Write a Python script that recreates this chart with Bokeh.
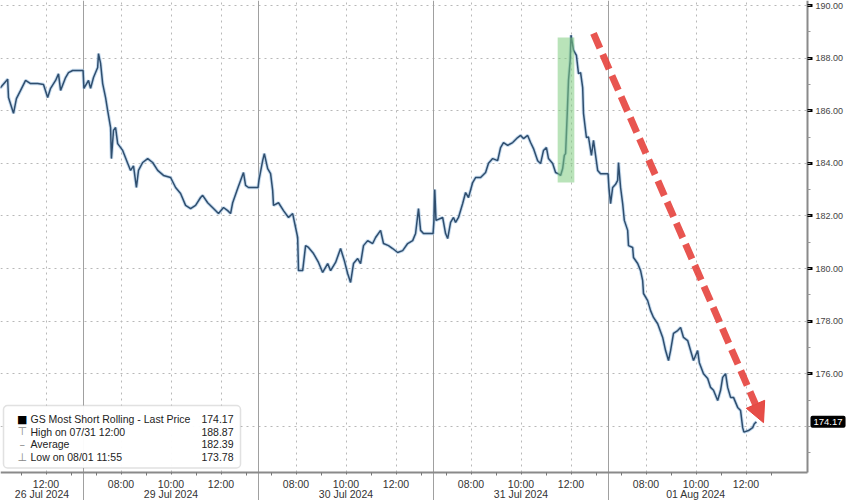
from bokeh.plotting import figure
from bokeh.models import (Range1d, FixedTicker, LinearAxis, Span, BoxAnnotation,
                          Label, Arrow, NormalHead, PrintfTickFormatter)
from bokeh.embed import file_html
from bokeh.resources import INLINE

# ---------------- data ----------------
days = ["26 Jul 2024", "29 Jul 2024", "30 Jul 2024", "31 Jul 2024", "01 Aug 2024"]
session_open = 6.5      # 06:30
session_len = 7.0       # hours shown per trading day

jul26_times = ["10:05","10:11","10:28","10:30","10:42","10:49","10:59","11:11","11:23","11:40",
               "11:54","12:04","12:11","12:23","12:30","12:35","12:47","12:54","13:04","13:29"]
jul26_prices = [186.9,186.88,187.2,186.5,185.9,186.46,186.77,187.15,187.03,187.03,
                187.0,186.5,186.85,187.15,187.4,186.77,187.26,187.45,187.53,187.53]

jul29_times = ["06:31","06:42","06:47","06:54","07:04","07:06","07:11","07:16","07:23","07:28",
               "07:35","07:37","07:42","07:47","07:52","08:04","08:16","08:23","08:30","08:37",
               "08:42","08:52","09:04","09:16","09:28","09:42","09:59","10:11","10:23","10:35",
               "10:47","10:59","11:11","11:16","11:28","11:42","11:54","12:06","12:16","12:23",
               "12:28","12:40","12:54","12:59","13:06","13:29"]
jul29_prices = [186.85,187.15,186.85,187.26,187.64,188.17,187.8,187.03,186.5,186.0,
                185.36,184.18,185.25,185.36,184.75,184.49,184.0,183.73,183.9,183.08,
                183.73,184.03,184.18,184.03,183.73,183.54,183.46,183.08,182.85,182.4,
                182.28,182.4,182.7,182.78,182.5,182.28,182.09,182.32,182.2,182.09,
                182.5,183.04,183.65,183.16,183.08,183.08]

jul30_times = ["06:31","06:40","06:44","06:52","06:59","07:04","07:06","07:18","07:30","07:42",
               "07:52","07:59","08:04","08:06","08:16","08:23","08:30","08:42","08:54","09:04",
               "09:16","09:23","09:35","09:47","09:56","10:04","10:11","10:18","10:28","10:35",
               "10:42","10:52","11:04","11:11","11:23","11:30","11:42","11:52","12:04","12:16",
               "12:28","12:40","12:47","12:54","12:59","13:06","13:29"]
jul30_prices = [183.35,184.1,184.37,183.8,183.61,182.97,182.4,182.5,182.2,181.94,
                182.09,181.56,181.18,179.92,179.92,180.87,180.8,180.57,180.23,179.85,
                180.19,179.92,180.23,180.76,180.3,179.81,179.47,180.19,180.38,180.19,
                180.87,181.06,180.95,181.18,181.45,180.95,180.87,180.76,180.61,180.68,
                180.95,181.06,181.33,182.28,181.45,181.33,181.33]

jul31_times = ["06:31","06:33","06:36","06:52","06:59","07:04","07:11","07:18","07:23","07:30",
               "07:40","07:47","07:54","08:04","08:11","08:23","08:35","08:42","08:52","09:04",
               "09:11","09:18","09:28","09:40","09:52","09:59","10:06","10:16","10:23","10:30",
               "10:40","10:47","10:54","11:01","11:06","11:16","11:23","11:30","11:35","11:40",
               "11:44","11:47","11:51","11:54","11:56","11:58","12:00","12:06","12:13","12:18",
               "12:23","12:28","12:30","12:37","12:42","12:49","12:54","12:59","13:04","13:11",
               "13:29"]
jul31_prices = [181.8,183.0,181.83,181.94,181.33,181.14,181.75,181.94,181.75,181.94,
                182.47,182.89,182.7,183.27,183.46,183.46,183.65,184.0,184.18,184.1,
                184.6,184.79,184.68,184.79,184.98,185.06,184.94,185.06,184.79,184.56,
                184.1,183.99,184.49,184.6,184.18,183.99,183.65,183.6,183.54,183.8,
                184.3,184.37,185.9,187.15,187.53,187.91,188.87,188.3,188.1,187.41,
                187.45,186.88,185.9,184.98,185.0,184.3,184.87,184.3,183.73,183.6,
                183.6]

aug01_times = ["06:31","06:35","06:40","06:47","06:52","06:54","06:59","07:04","07:08","07:16",
               "07:18","07:28","07:30","07:40","07:47","07:52","07:54","08:04","08:11","08:18",
               "08:28","08:40","08:47","08:54","08:59","09:06","09:16","09:23","09:30","09:40",
               "09:47","09:54","10:04","10:08","10:18","10:28","10:35","10:42","10:52","10:59",
               "11:04","11:11","11:16","11:23","11:30","11:40","11:47","11:52","11:55","12:06",
               "12:16","12:20","12:25"]
aug01_prices = [183.08,182.47,183.08,183.2,183.35,184.03,183.08,182.47,181.83,181.45,
                180.87,180.8,180.42,180.19,179.92,179.54,179.05,178.78,178.4,178.14,
                177.9,177.38,176.88,176.5,176.88,177.53,177.64,177.76,177.38,177.26,
                176.88,176.5,176.88,176.42,176.0,175.82,175.48,175.37,174.98,175.37,
                175.86,176.0,175.48,175.1,175.1,174.72,174.6,173.95,173.78,173.84,
                173.95,174.1,174.17]

time_tick_labels = ["08:00", "10:00", "12:00"]
y_label_values = [176, 178, 180, 182, 184, 186, 188, 190]
y_grid_values = [174, 176, 178, 180, 182, 184, 186, 188, 190]

legend_labels = ["GS Most Short Rolling - Last Price", "High on 07/31 12:00",
                 "Average", "Low on 08/01 11:55"]
legend_values = ["174.17", "188.87", "182.39", "173.78"]
last_price = 174.17

# highlighted spike (31 Jul) and trend arrow
highlight_times = ["11:28", "12:08"]
highlight_prices = [183.27, 188.78]
arrow_from = ("12:54", 188.94)   # 31 Jul
arrow_to = ("12:42", 174.14)     # 01 Aug


def xpos(day_idx, hhmm):
    h, m = hhmm.split(":")
    return day_idx * session_len + (int(h) + int(m) / 60.0 - session_open)


xs, ys = [], []
for d, (tt, pp) in enumerate([(jul26_times, jul26_prices), (jul29_times, jul29_prices),
                              (jul30_times, jul30_prices), (jul31_times, jul31_prices),
                              (aug01_times, aug01_prices)]):
    xs += [xpos(d, t) for t in tt]
    ys += pp

# ranges: the whole canvas is the frame; axes are drawn at fixed locations inside it
X0, X1 = 3.68, 37.6          # canvas x 0 .. 848
X_AXIS = 35.96               # where the price axis sits
Y_AXIS = 172.24              # where the time axis sits
Y1 = 190.19
Y0 = 171.18
FONT = "Liberation Sans"

p = figure(width=848, height=500, x_range=Range1d(X0, X1), y_range=Range1d(Y0, Y1),
           output_backend="svg", toolbar_location=None, y_axis_location="right",
           min_border_left=0, min_border_top=0, min_border_right=0, min_border_bottom=0,
           outline_line_color=None, background_fill_color="white", border_fill_color="white")

# ---- x axis: times ----
major_x, labels_x, minor_x = [], {}, []
major_x.append(xpos(0, "12:00")); labels_x[xpos(0, "12:00")] = "12:00"
minor_x += [xpos(0, "11:00"), xpos(0, "13:00")]
for d in range(1, 5):
    for lbl in time_tick_labels:
        v = xpos(d, lbl)
        major_x.append(v)
        labels_x[v] = lbl
    minor_x += [xpos(d, h) for h in ["07:00", "09:00", "11:00", "13:00"]]

xa = p.xaxis[0]
xa.fixed_location = Y_AXIS
xa.bounds = (X0, X_AXIS)
xa.ticker = FixedTicker(ticks=major_x, minor_ticks=minor_x)
xa.major_label_overrides = labels_x
xa.axis_line_color = "#8a8a8a"
xa.axis_line_width = 2
xa.major_tick_in = 0
xa.major_tick_out = 2
xa.minor_tick_in = 0
xa.minor_tick_out = 3
xa.major_tick_line_color = "#777777"
xa.minor_tick_line_color = "#777777"
xa.major_label_text_font = FONT
xa.major_label_text_font_size = "10.5px"
xa.major_label_text_color = "#333333"
xa.major_label_standoff = 2

# ---- date axis ----
date_ticks = [(X0 + session_len) / 2.0] + [d * session_len + session_len / 2 for d in range(1, 5)]
date_axis = LinearAxis(ticker=FixedTicker(ticks=date_ticks, minor_ticks=[]),
                       fixed_location=Y_AXIS,
                       major_label_overrides={t: days[i] for i, t in enumerate(date_ticks)},
                       axis_line_color=None, major_tick_line_color=None, minor_tick_line_color=None,
                       major_tick_out=0, major_tick_in=0,
                       major_label_text_font=FONT, major_label_text_font_size="10.5px",
                       major_label_text_color="#333333", major_label_standoff=15)
p.add_layout(date_axis, "below")

# ---- day separators (run through the label area as in the reference) ----
sep_ticks = [d * session_len for d in range(1, 5)]
for s in sep_ticks:
    p.add_layout(Span(location=s, dimension="height", line_color="#a0a0a0",
                      line_width=1, level="underlay"))

# ---- y axis ----
ya = p.yaxis[0]
ya.fixed_location = X_AXIS
ya.bounds = (Y_AXIS, Y1)
ya.ticker = FixedTicker(ticks=y_label_values, minor_ticks=list(range(173, 191)))
ya.formatter = PrintfTickFormatter(format="%.2f")
ya.axis_line_color = "#8a8a8a"
ya.axis_line_width = 2
ya.major_tick_in = 0
ya.major_tick_out = 5
ya.major_tick_line_width = 3
ya.major_tick_line_color = "black"
ya.minor_tick_in = 0
ya.minor_tick_out = 3
ya.minor_tick_line_color = "#999999"
ya.major_label_text_font = FONT
ya.major_label_text_font_size = "9px"
ya.major_label_text_color = "#444444"
ya.major_label_standoff = 3

# ---- grids ----
p.xgrid[0].ticker = FixedTicker(ticks=major_x)
p.xgrid[0].cross_bounds = (Y_AXIS, Y1)
p.ygrid[0].ticker = FixedTicker(ticks=y_grid_values)
p.ygrid[0].cross_bounds = (X0, X_AXIS)
for g in (p.xgrid[0], p.ygrid[0]):
    g.grid_line_color = "#b8b8b8"
    g.grid_line_dash = "2 4"
    g.grid_line_width = 1

# ---- price line ----
p.line(xs, ys, line_color="#9ec2e3", line_width=3.4, line_alpha=0.6)
p.line(xs, ys, line_color="#2f4e6e", line_width=1.5)

# ---- highlight box ----
p.add_layout(BoxAnnotation(left=xpos(3, highlight_times[0]), right=xpos(3, highlight_times[1]),
                           bottom=highlight_prices[0], top=highlight_prices[1],
                           fill_color="#80cc80", fill_alpha=0.55, line_color=None))

# ---- trend arrow ----
red = "#e5433d"
p.add_layout(Arrow(x_start=xpos(3, arrow_from[0]), y_start=arrow_from[1],
                   x_end=xpos(4, arrow_to[0]), y_end=arrow_to[1],
                   line_color=red, line_width=7, line_dash="16 7", line_alpha=0.9,
                   end=NormalHead(size=20, fill_color=red, line_color=red, fill_alpha=0.95)))

# ---- legend box ----
p.add_layout(BoxAnnotation(left=3.8, right=13.28, top=174.79, bottom=172.42,
                           fill_color="white", fill_alpha=0.96, line_color="#9a9a9a",
                           line_width=1.5, border_radius=4))
row_y = [174.26, 173.80, 173.31, 172.83]
icons = ["\u25A0", "\u22A4", "\u2013", "\u22A5"]
icon_colors = ["black", "#888888", "#888888", "#888888"]
for i in range(4):
    p.add_layout(Label(x=4.55, y=row_y[i], text=icons[i], text_color=icon_colors[i],
                       text_font="DejaVu Sans", text_font_size="11px",
                       text_baseline="middle", text_align="center"))
    p.add_layout(Label(x=4.88, y=row_y[i], text=legend_labels[i], text_font=FONT,
                       text_font_size="10.5px", text_color="#222222", text_baseline="middle"))
    p.add_layout(Label(x=13.0, y=row_y[i], text=legend_values[i], text_font=FONT,
                       text_font_size="10.5px", text_color="#222222", text_baseline="middle",
                       text_align="right"))

# ---- last price tag ----
p.add_layout(Label(x=X_AXIS, y=last_price, text="174.17", text_color="white", text_font=FONT,
                   text_font_size="9.5px", text_baseline="middle", x_offset=3,
                   background_fill_color="black", padding=3, border_radius=2))

open("out.html", "w").write(file_html(p, INLINE))
